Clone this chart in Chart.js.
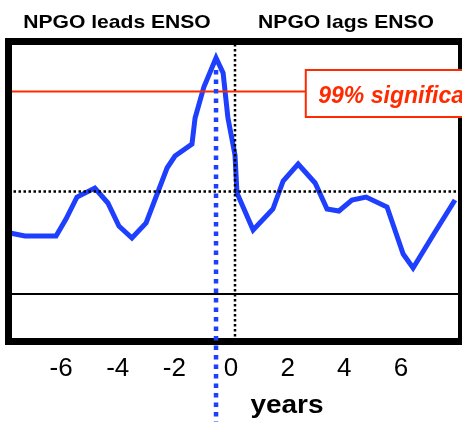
<!DOCTYPE html>
<html>
<head>
<meta charset="utf-8">
<script src="https://cdn.jsdelivr.net/npm/chart.js@4"></script>
<style>
    body { margin: 0; background: #fff; }
    canvas { display: block; }
</style>
</head>
<body>
<canvas id="chartCanvas" width="462" height="422"></canvas>
<script>
// lag in years (negative = NPGO leads) and correlation
const lagYears = [-7.95, -7.42, -6.32, -5.97, -5.58, -4.95, -4.49, -4.10, -3.64, -3.14,
    -2.40, -2.12, -1.52, -1.41, -1.10, -0.67, -0.42, -0.25, 0.00, 0.07,
    0.64, 1.34, 1.70, 2.23, 2.83, 3.25, 3.67, 4.13, 4.63, 5.37,
    5.94, 6.29, 7.00, 7.77];
const correlation = [-0.166, -0.178, -0.178, -0.110, -0.022, 0.014, -0.046, -0.138, -0.186, -0.126,
    0.094, 0.142, 0.190, 0.294, 0.418, 0.534, 0.474, 0.294, 0.146, -0.006,
    -0.154, -0.070, 0.042, 0.110, 0.034, -0.070, -0.078, -0.034, -0.022, -0.062,
    -0.250, -0.306, -0.174, -0.034];
const xTicks = [-6, -4, -2, 0, 2, 4, 6];
const xRange = [-8, 8];
const yRange = [-0.6, 0.6];
const sigLevel = 0.4;
const lowerLevel = -0.41;
const peakLag = -0.67;
const peakCorr = 0.534;
const leftHeading = 'NPGO leads ENSO';
const rightHeading = 'NPGO lags ENSO';
const sigLabel = '99% significance';
const xTitle = 'years';

const BLUE = '#1f3fff';
const RED = '#ff2a00';
const FONT = '"Liberation Sans", Arial, Helvetica, sans-serif';

function hLine(y) {
    return [{ x: xRange[0], y: y }, { x: xRange[1], y: y }];
}

function drawText(ctx, text, x, y, font, color, sx) {
    ctx.save();
    ctx.font = font;
    ctx.fillStyle = color;
    ctx.textAlign = 'center';
    ctx.textBaseline = 'alphabetic';
    ctx.translate(x, y);
    ctx.scale(sx, 1);
    ctx.fillText(text, 0, 0);
    ctx.restore();
}

const decorations = {
    id: 'decorations',
    afterDraw(chart) {
        const ctx = chart.ctx;
        const area = chart.chartArea;
        const xs = chart.scales.x;
        const ys = chart.scales.y;

        // thick frame
        ctx.save();
        ctx.strokeStyle = '#000';
        ctx.lineWidth = 7;
        ctx.strokeRect(area.left, area.top, area.right - area.left, area.bottom - area.top);
        ctx.restore();

        // significance label box
        const boxLeft = xs.getPixelForValue(2.5);
        const boxMid = ys.getPixelForValue(sigLevel) + 2;
        ctx.save();
        ctx.fillStyle = '#fff';
        ctx.strokeStyle = RED;
        ctx.lineWidth = 2;
        ctx.fillRect(boxLeft, boxMid - 23.5, 200, 47);
        ctx.strokeRect(boxLeft, boxMid - 23.5, 200, 47);
        ctx.font = 'italic bold 23px ' + FONT;
        ctx.fillStyle = RED;
        ctx.textAlign = 'left';
        ctx.fillText(sigLabel, boxLeft + 12.5, boxMid + 9.5);
        ctx.restore();

        // headings and axis title
        drawText(ctx, leftHeading, 117, 28, 'bold 19px ' + FONT, '#000', 1.11);
        drawText(ctx, rightHeading, 346, 28, 'bold 19px ' + FONT, '#000', 1.11);
        drawText(ctx, xTitle, 287, 413, 'bold 25px ' + FONT, '#000', 1.12);

        // dotted blue marker at the peak lag, running off the bottom
        const px = xs.getPixelForValue(peakLag);
        ctx.save();
        ctx.strokeStyle = BLUE;
        ctx.lineWidth = 4.5;
        ctx.setLineDash([4.5, 5]);
        ctx.beginPath();
        ctx.moveTo(px, ys.getPixelForValue(peakCorr) + 12);
        ctx.lineTo(px, chart.height);
        ctx.stroke();
        ctx.restore();
    }
};

const ctx = document.getElementById('chartCanvas').getContext('2d');
new Chart(ctx, {
    type: 'line',
    data: {
        datasets: [
            {
                data: lagYears.map((x, i) => ({ x: x, y: correlation[i] })),
                borderColor: BLUE,
                borderWidth: 5,
                order: 5
            },
            {
                data: hLine(sigLevel),
                borderColor: RED,
                borderWidth: 2,
                order: 1
            },
            {
                data: hLine(0),
                borderColor: '#000',
                borderWidth: 2.5,
                borderDash: [2.5, 2.5],
                order: 1
            },
            {
                data: hLine(lowerLevel),
                borderColor: '#000',
                borderWidth: 2,
                order: 1
            },
            {
                data: [{ x: 0, y: yRange[0] }, { x: 0, y: yRange[1] }],
                borderColor: '#000',
                borderWidth: 2.5,
                borderDash: [2.5, 2.5],
                order: 1
            }
        ]
    },
    options: {
        responsive: false,
        animation: false,
        devicePixelRatio: 1,
        layout: { padding: { top: 41.5, left: 8.5, right: 0.5, bottom: 0 } },
        elements: {
            point: { radius: 0 },
            line: { tension: 0, borderCapStyle: 'butt', borderJoinStyle: 'miter' }
        },
        plugins: {
            legend: { display: false },
            tooltip: { enabled: false },
            title: { display: false }
        },
        scales: {
            x: {
                type: 'linear',
                min: xRange[0],
                max: xRange[1],
                grid: { display: false, drawTicks: false },
                border: { display: false },
                afterBuildTicks: scale => {
                    scale.ticks = xTicks.map(v => ({ value: v }));
                },
                afterFit: scale => {
                    scale.height = 80.5;
                },
                ticks: {
                    color: '#000',
                    padding: 12,
                    labelOffset: -4,
                    maxRotation: 0,
                    font: { family: FONT, size: 26 }
                }
            },
            y: {
                display: false,
                min: yRange[0],
                max: yRange[1]
            }
        }
    },
    plugins: [decorations]
});
</script>
</body>
</html>
